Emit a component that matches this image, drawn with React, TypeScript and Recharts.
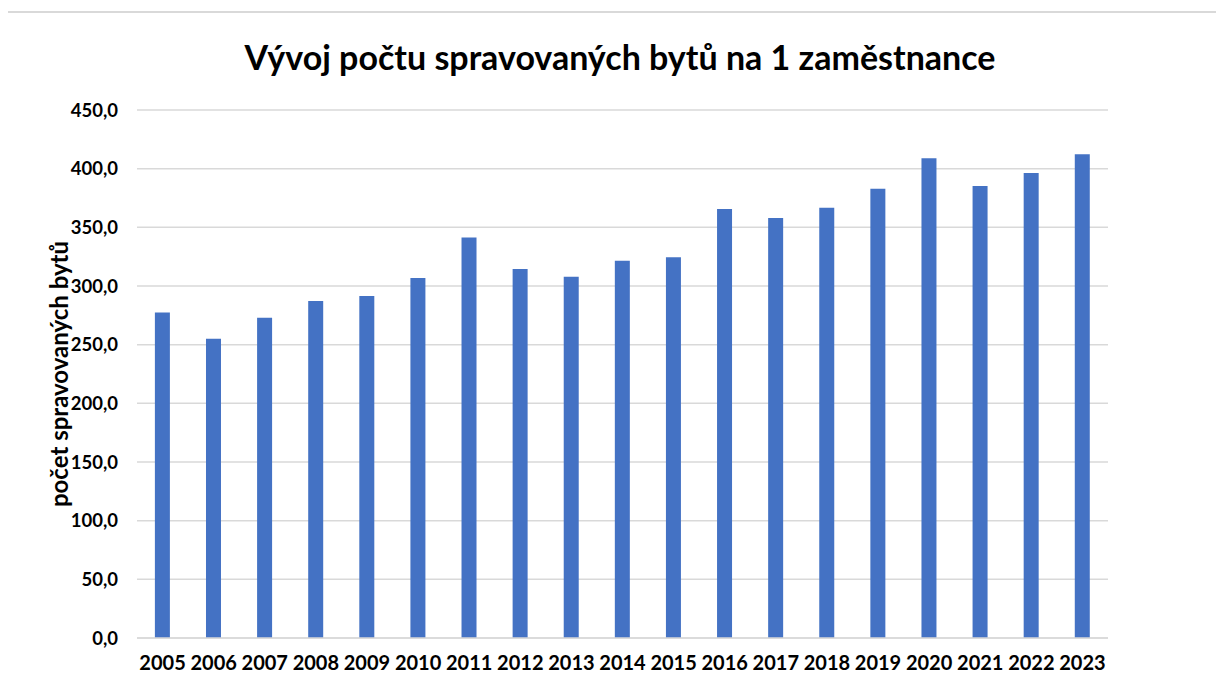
import React from 'react';
import { BarChart, Bar, XAxis, YAxis, CartesianGrid } from 'recharts';

const years = ['2005','2006','2007','2008','2009','2010','2011','2012','2013','2014','2015','2016','2017','2018','2019','2020','2021','2022','2023'];
const values = [277.5, 255.1, 273.0, 287.2, 291.5, 306.8, 341.4, 314.5, 307.9, 321.6, 324.4, 365.6, 358.0, 366.7, 382.9, 408.8, 385.2, 396.3, 412.2];
const yTicks = [0, 50, 100, 150, 200, 250, 300, 350, 400, 450];
const title = 'Vývoj počtu spravovaných bytů na 1 zaměstnance';
const yLabel = 'počet spravovaných bytů';

const data = years.map((y, i) => ({ year: y, value: values[i] }));
const FONT = 'Lato, "Open Sans", sans-serif';

const fmt = (v: number) => v.toFixed(1).replace('.', ',');

const YLabel = (props: any) => {
  const vb = props.viewBox || {};
  const cx = 58;
  const cy = vb.y + vb.height / 2;
  return (
    <text x={cx} y={cy} transform={`rotate(-90, ${cx}, ${cy})`} textAnchor="middle" dominantBaseline="central"
      fontFamily={FONT} fontWeight={700} fontSize={24} fill="#000">{yLabel}</text>
  );
};

export default function App() {
  return (
    <div style={{ margin: '-8px', width: 1224, height: 693, position: 'relative', background: '#fff', overflow: 'hidden' }}>
      <div style={{ position: 'absolute', left: 4, top: 11, width: 1240, height: 700, borderTop: '2px solid #d9d9d9', borderLeft: '2px solid #d9d9d9', boxSizing: 'border-box' }} />
      <div style={{ position: 'absolute', left: 0, top: 34, width: 1240, textAlign: 'center', fontFamily: FONT, fontWeight: 700, fontSize: 34, color: '#000', lineHeight: '46px' }}>{title}</div>
      <BarChart width={1224} height={693} data={data} margin={{ top: 110, right: 116, bottom: 25, left: 0 }} barCategoryGap="35%" style={{ position: 'absolute', left: 0, top: 0 }}>
        <CartesianGrid vertical={false} stroke="#d9d9d9" strokeWidth={1.5} />
        <XAxis dataKey="year" height={30} axisLine={{ stroke: '#d9d9d9', strokeWidth: 1.5 }} tickLine={false} tickMargin={12}
          tick={{ fontFamily: FONT, fontWeight: 700, fontSize: 20, fill: '#000' }} interval={0} />
        <YAxis width={137} domain={[0, 450]} ticks={yTicks} axisLine={false} tickLine={false} tickMargin={13}
          tickFormatter={fmt} tick={{ fontFamily: FONT, fontWeight: 700, fontSize: 18.5, fill: '#000' }}
          label={{ content: YLabel }} />
        <Bar dataKey="value" fill="#4472C4" isAnimationActive={false} />
      </BarChart>
    </div>
  );
}
